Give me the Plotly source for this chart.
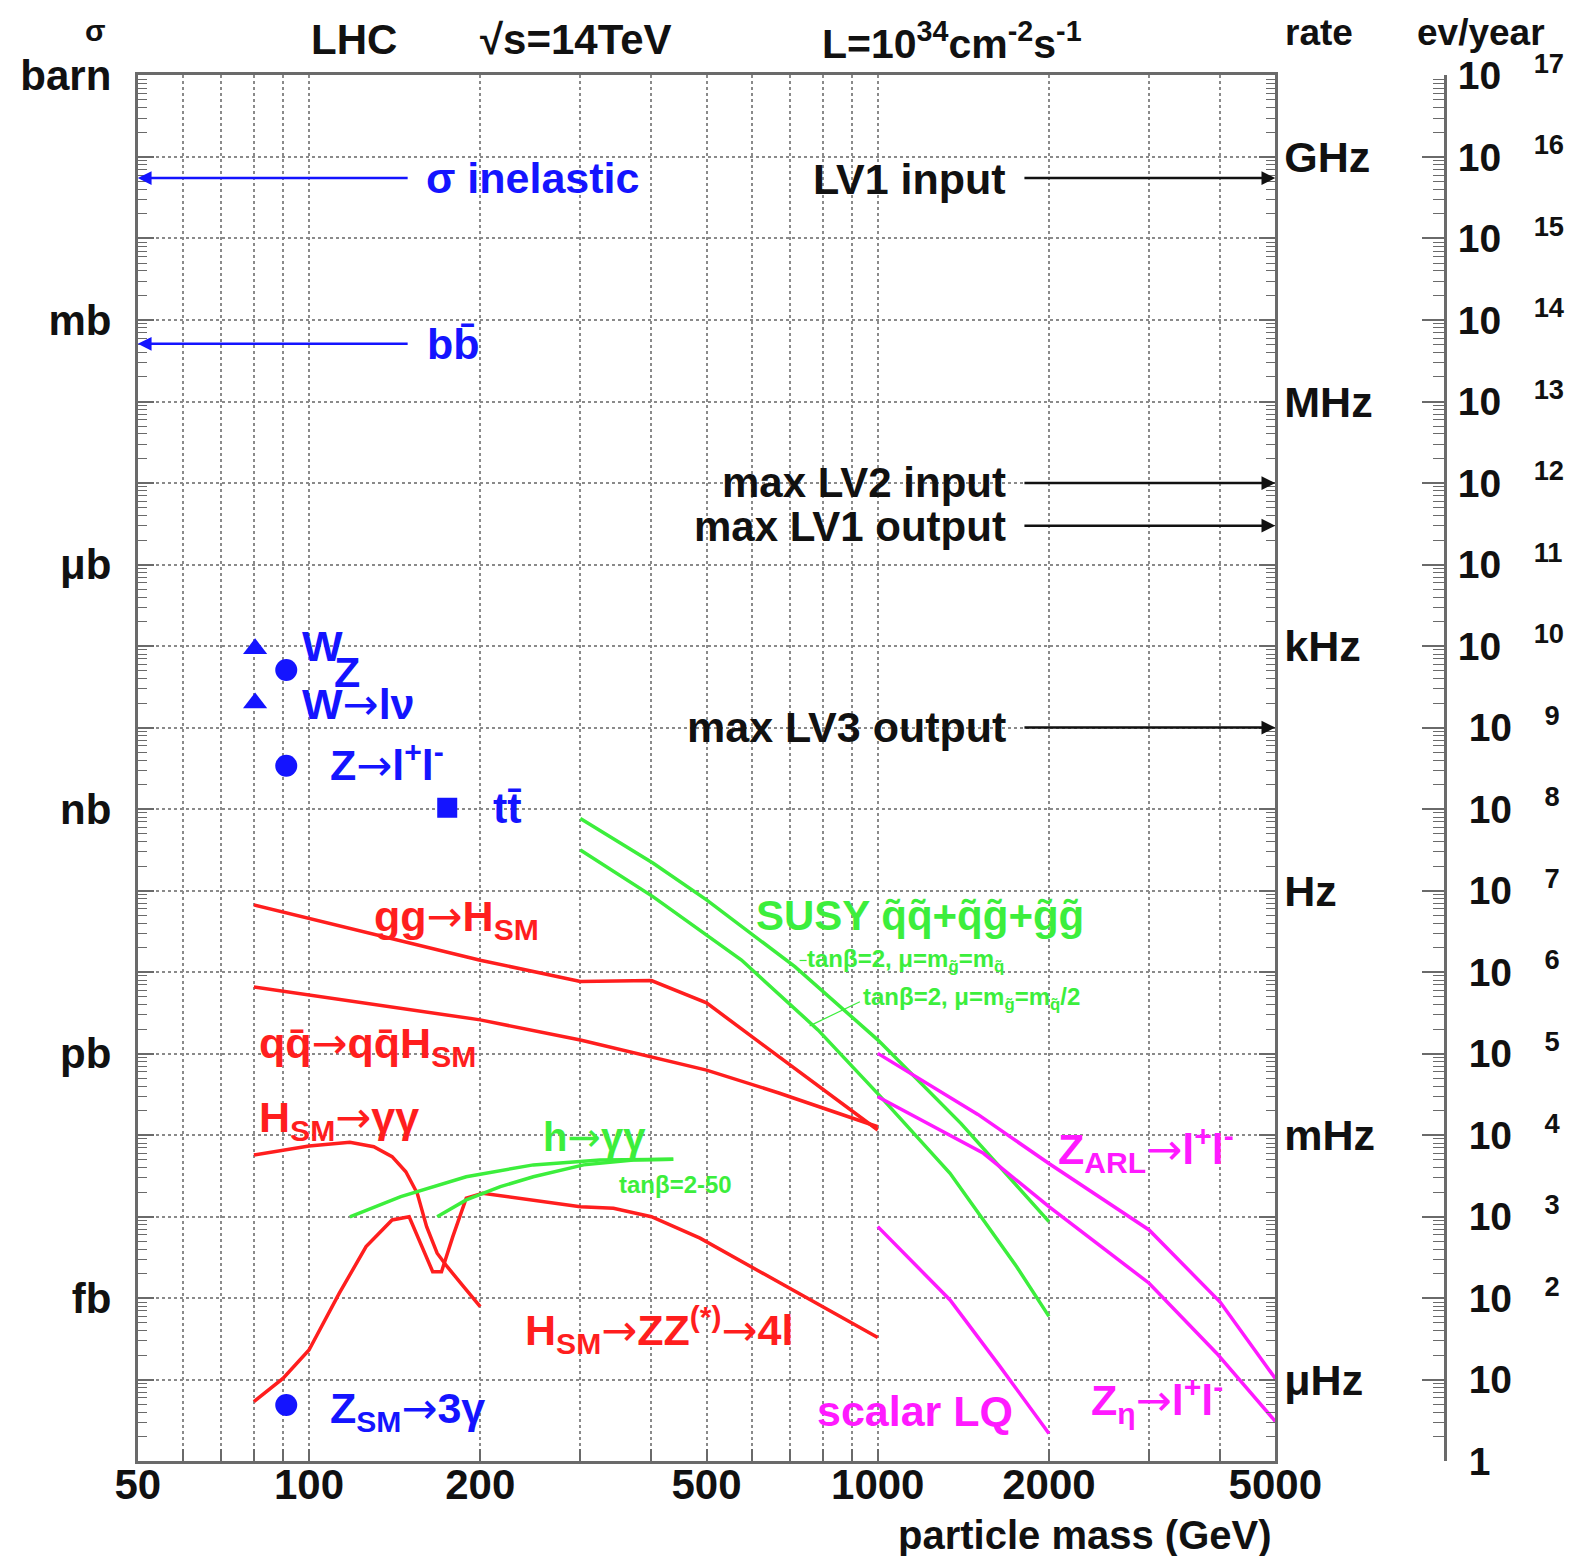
import math
import plotly.graph_objects as go

# ---------------------------------------------------------------------------
# DATA  (x: particle mass in GeV, y: events / year at L = 1e34 cm^-2 s^-1)
# ---------------------------------------------------------------------------
mass_tickvals = [50, 60, 70, 80, 90, 100, 200, 300, 400, 500, 600, 700, 800, 900,
                 1000, 2000, 3000, 4000, 5000]
mass_ticklabels = ["50", "", "", "", "", "100", "200", "", "", "500", "", "", "", "",
                   "1000", "2000", "", "", "5000"]

sigma_decades = [17, 14, 11, 8, 5, 2]
sigma_units = ["barn", "mb", "μb", "nb", "pb", "fb"]
rate_decades = [16, 13, 10, 7, 4, 1]
rate_units = ["GHz", "MHz", "kHz", "Hz", "mHz", "μHz"]
evyear_decades = list(range(0, 18))

# cross sections drawn as arrows (events / year)
inelastic_rate = 5.5e15
bbbar_rate = 5.1e13
# trigger rates drawn as arrows (events / year)
lv1_input_rate = 5.5e15
lv2_input_max = 1.0e12
lv1_output_max = 3.0e11
lv3_output_max = 1.0e9

# single points
w_mass = [80.4, 80.4]            # W total, W -> l nu
w_rate = [9.3e9, 2.0e9]
z_mass = [91.2, 91.2, 91.2]      # Z total, Z -> l+l-, Z_SM -> 3 gamma
z_rate = [5.1e9, 3.4e8, 4.9]
top_mass = [175]
top_rate = [1.04e8]

# Standard-model Higgs
ggH_mass = [80, 200, 300, 400, 500, 1000]
ggH_rate = [6.7e6, 1.40e6, 7.7e5, 7.9e5, 4.2e5, 1.16e4]

qqH_mass = [80, 200, 300, 400, 500, 670, 1000]
qqH_rate = [6.6e5, 2.6e5, 1.47e5, 9.2e4, 6.3e4, 3.3e4, 1.27e4]

Hgg_mass = [80, 90, 100, 118, 130, 140, 148, 155, 161, 168, 175, 187, 200]
Hgg_rate = [5730, 6610, 7400, 8200, 7240, 5460, 3570, 1940, 757, 357, 244, 139, 79]

HZZ_mass = [80, 90, 100, 113, 126, 140, 150, 165, 171, 179, 189, 202, 300, 343, 400, 487, 1000]
HZZ_rate = [5.4, 10.4, 23.2, 115, 430, 914, 1000, 212, 212, 570, 1690, 1940, 1330, 1270,
            1000, 546, 33]

# MSSM h -> gamma gamma (tan beta = 2-50), two edges
hgg_hi_mass = [118, 145, 189, 248, 325, 437]
hgg_hi_rate = [1000, 1770, 3100, 4330, 4980, 5070]
hgg_lo_mass = [168, 189, 217, 248, 304, 372, 437]
hgg_lo_rate = [1000, 1610, 2340, 3100, 4330, 4980, 5070]

# SUSY squark/gluino production
susy1_mass = [300, 403, 500, 715, 1000, 1400, 2000]
susy1_rate = [7.7e7, 2.17e7, 7.7e6, 1.17e6, 1.48e5, 1.4e4, 871]
susy2_mass = [300, 403, 576, 785, 1000, 1340, 1755, 2000]
susy2_rate = [3.15e7, 8.4e6, 1.41e6, 1.96e5, 3.24e4, 3420, 244, 60]

# Exotics
zarl_mass = [1000, 1500, 2000, 3000, 4000, 5000]
zarl_rate = [1.01e5, 1.8e4, 4.5e3, 689, 90, 10.4]
zeta_mass = [1000, 1534, 2000, 3000, 3943, 5000]
zeta_rate = [2.97e4, 6010, 1330, 153, 21.2, 3.1]
lq_mass = [1000, 1340, 1641, 2000]
lq_rate = [757, 95.5, 14.5, 2.2]

# ---------------------------------------------------------------------------
# STYLE / LAYOUT HELPERS
# ---------------------------------------------------------------------------
WIN_W, WIN_H = 1577, 1564
BODY = 8                      # default page margin around the plot div
WF, HF = WIN_W - 2 * BODY, WIN_H - 2 * BODY
S = 1577 / 1568.0
FONT = "Liberation Sans, Arial, Helvetica, sans-serif"
BLUE = "#1414ff"
RED = "#ff1e1e"
GREEN = "#3cee3c"
MAGENTA = "#ff1aff"
INK = "#111111"
FRAME = "#6a6a6a"
GRID = "#8a8a8a"
ARR = '<span style="font-family:DejaVu Sans;font-weight:normal">→</span>'


def PX(xs):
    return (xs * S - BODY) / WF


def PY(ys):
    return 1 - (ys * S - BODY) / HF


fig = go.Figure()


def line(xs, ys, color, yaxis="y", width=3.5):
    fig.add_trace(go.Scatter(x=xs, y=ys, mode="lines", yaxis=yaxis,
                             line=dict(color=color, width=width),
                             showlegend=False, hoverinfo="skip"))


line(ggH_mass, ggH_rate, RED)
line(qqH_mass, qqH_rate, RED)
line(Hgg_mass, Hgg_rate, RED)
line(HZZ_mass, HZZ_rate, RED)
line(hgg_hi_mass, hgg_hi_rate, GREEN)
line(hgg_lo_mass, hgg_lo_rate, GREEN)
line(susy1_mass, susy1_rate, GREEN)
line(susy2_mass, susy2_rate, GREEN)
line(zarl_mass, zarl_rate, MAGENTA, "y2")
line(zeta_mass, zeta_rate, MAGENTA, "y2")
line(lq_mass, lq_rate, MAGENTA, "y2")

fig.add_trace(go.Scatter(x=w_mass, y=w_rate, mode="markers", yaxis="y3",
                         marker=dict(symbol="triangle-up", size=21, color=BLUE),
                         showlegend=False, hoverinfo="skip"))
fig.add_trace(go.Scatter(x=z_mass, y=z_rate, mode="markers", yaxis="y3",
                         marker=dict(symbol="circle", size=22, color=BLUE),
                         showlegend=False, hoverinfo="skip"))
fig.add_trace(go.Scatter(x=top_mass, y=top_rate, mode="markers", yaxis="y3",
                         marker=dict(symbol="square", size=20, color=BLUE),
                         showlegend=False, hoverinfo="skip"))

annotations = []


def text(s, xs, ys, size=43, color=INK, xanchor="left", bold=True):
    annotations.append(dict(text=s, x=PX(xs), y=PY(ys), xref="paper", yref="paper",
                            xanchor=xanchor, yanchor="middle", showarrow=False,
                            borderpad=0,
                            font=dict(family=FONT, size=size, color=color,
                                      weight="bold" if bold else "normal")))


def arrow(y_rate, x_tail, x_head, color):
    annotations.append(dict(text="", x=math.log10(x_head), y=math.log10(y_rate),
                            ax=math.log10(x_tail), ay=math.log10(y_rate),
                            xref="x", yref="y", axref="x", ayref="y",
                            showarrow=True, arrowhead=2, arrowsize=1.1,
                            arrowwidth=2.5, arrowcolor=color))


# arrows
arrow(inelastic_rate, 150, 50, BLUE)
arrow(bbbar_rate, 150, 50, BLUE)
for r in (lv1_input_rate, lv2_input_max, lv1_output_max, lv3_output_max):
    arrow(r, 1800, 5000, INK)

# header
text("σ", 95, 30, size=30, xanchor="center")
text("LHC", 308, 39, size=42)
text("√s=14TeV", 476, 39, size=42)
text("L=10<sup>34</sup>cm<sup>-2</sup>s<sup>-1</sup>", 816, 41, size=41)
text("rate", 1277, 32, size=37)
text("ev/year", 1408, 32, size=37)
text("particle mass (GeV)", 1266, 1526, size=40, xanchor="right")

# arrow labels
text("σ inelastic", 423, 177, color=BLUE)
text("bb\u0304", 424, 342, color=BLUE)
text("LV1 input", 1001, 178, xanchor="right")
text("max LV2 input", 1001, 480, size=42, xanchor="right")
text("max LV1 output", 1001, 523, size=42, xanchor="right")
text("max LV3 output", 1001, 723, xanchor="right")

# point labels
text("W", 299, 642, color=BLUE)
text("Z", 331, 668, color=BLUE)
text("W" + ARR + "lν", 299, 700, color=BLUE)
text("Z" + ARR + "l<sup>+</sup>l<sup>-</sup>", 327, 758, color=BLUE)
text("tt\u0304", 489, 803, color=BLUE)
text("Z<sub>SM</sub>" + ARR + "3γ", 327, 1402, color=BLUE)

# curve labels
text("gg" + ARR + "H<sub>SM</sub>", 371, 913, color=RED)
text("qq\u0304" + ARR + "qq\u0304H<sub>SM</sub>", 257, 1040, color=RED)
text("H<sub>SM</sub>" + ARR + "γγ", 257, 1113, color=RED)
text("H<sub>SM</sub>" + ARR + "ZZ<sup>(*)</sup>" + ARR + "4l", 521, 1322, color=RED)
text("h" + ARR + "γγ", 539, 1131, size=40, color=GREEN)
text("tanβ=2-50", 614, 1178, size=24, color=GREEN)
text("SUSY q\u0303q\u0303+q\u0303g\u0303+g\u0303g\u0303", 751, 910, size=42, color=GREEN)
text("tanβ=2, μ=m<sub>g\u0303</sub>=m<sub>q\u0303</sub>", 801, 955, size=24, color=GREEN)
text("tanβ=2, μ=m<sub>g\u0303</sub>=m<sub>q\u0303</sub>/2", 857, 993, size=24, color=GREEN)
text("Z<sub>ARL</sub>" + ARR + "l<sup>+</sup>l<sup>-</sup>", 1051, 1142, color=MAGENTA)
text("Z<sub>η</sub>" + ARR + "l<sup>+</sup>l<sup>-</sup>", 1084, 1392, color=MAGENTA)
text("scalar LQ", 811, 1403, color=MAGENTA)

shapes = [
    dict(type="line", xref="paper", yref="paper", x0=PX(795), y0=PY(955), x1=PX(802), y1=PY(955),
         line=dict(color=GREEN, width=1.2)),
    dict(type="line", xref="paper", yref="paper", x0=PX(805), y0=PY(1020), x1=PX(855), y1=PY(996),
         line=dict(color=GREEN, width=1.2)),
]

# ---------------------------------------------------------------------------
# AXES
# ---------------------------------------------------------------------------
minor_vals = [m * 10 ** e for e in range(17) for m in range(2, 10)]
decade_vals = [10 ** e for e in evyear_decades]
sigma_text = [sigma_units[sigma_decades.index(e)] if e in sigma_decades else ""
              for e in evyear_decades]


def evyear_label(e):
    if e == 0:
        return "\u00a01"
    if e == 1:
        return "\u00a010"
    pad = "" if e >= 10 else "\u00a0"
    return pad + "10\u00a0\u00a0\u00a0<sup>%d</sup>" % e


evyear_text = [evyear_label(e) for e in evyear_decades]

tickfont = dict(family=FONT, size=42, color=INK, weight="bold")
ydomain = [PY(1453), PY(75)]

fig.update_layout(
    width=WF, height=HF,
    margin=dict(l=0, r=0, t=0, b=0, pad=0, autoexpand=False),
    paper_bgcolor="white", plot_bgcolor="white",
    showlegend=False,
    annotations=annotations,
    shapes=shapes,
    xaxis=dict(type="log", range=[math.log10(50), math.log10(5000)],
               domain=[PX(137), PX(1268)], automargin=False,
               tickmode="array", tickvals=mass_tickvals, ticktext=mass_ticklabels,
               ticks="inside", ticklen=12, tickwidth=1.5, tickcolor=FRAME,
               showgrid=True, gridcolor=GRID, griddash="dot", gridwidth=1.5,
               showline=True, linecolor=FRAME, linewidth=3, mirror=True,
               zeroline=False, tickfont=dict(family=FONT, size=42, color=INK, weight="bold"),
               ticklabelstandoff=-16),
    yaxis=dict(type="log", range=[0, 17], domain=ydomain, automargin=False,
               tickmode="array", tickvals=decade_vals, ticktext=sigma_text,
               ticks="inside", ticklen=16, tickwidth=1.5, tickcolor=FRAME,
               minor=dict(tickvals=minor_vals, ticks="inside", ticklen=9,
                          tickcolor=FRAME, tickwidth=1.2, showgrid=False),
               showgrid=True, gridcolor=GRID, griddash="dot", gridwidth=1.5,
               showline=True, linecolor=FRAME, linewidth=3, mirror="ticks",
               zeroline=False, tickfont=tickfont, ticklabelstandoff=15),
    yaxis2=dict(type="log", range=[0, 17], overlaying="y", side="right", anchor="x",
                automargin=False,
                tickmode="array", tickvals=[10 ** e for e in rate_decades], ticktext=rate_units,
                ticks="", showgrid=False, showline=False, zeroline=False,
                tickfont=dict(family=FONT, size=43, color=INK, weight="bold"),
                ticklabelstandoff=8),
    yaxis3=dict(type="log", range=[0, 17], overlaying="y", side="right", anchor="free",
                position=PX(1437), automargin=False,
                tickmode="array", tickvals=decade_vals, ticktext=evyear_text,
                ticks="inside", ticklen=22, tickwidth=2, tickcolor=FRAME,
                minor=dict(tickvals=minor_vals, ticks="inside", ticklen=11,
                           tickcolor=FRAME, tickwidth=1.2, showgrid=False),
                showgrid=False, showline=True, linecolor=FRAME, linewidth=2.5,
                zeroline=False, tickfont=dict(family=FONT, size=39, color=INK, weight="bold"),
                ticklabelstandoff=3),
)

fig.write_html("out.html")
